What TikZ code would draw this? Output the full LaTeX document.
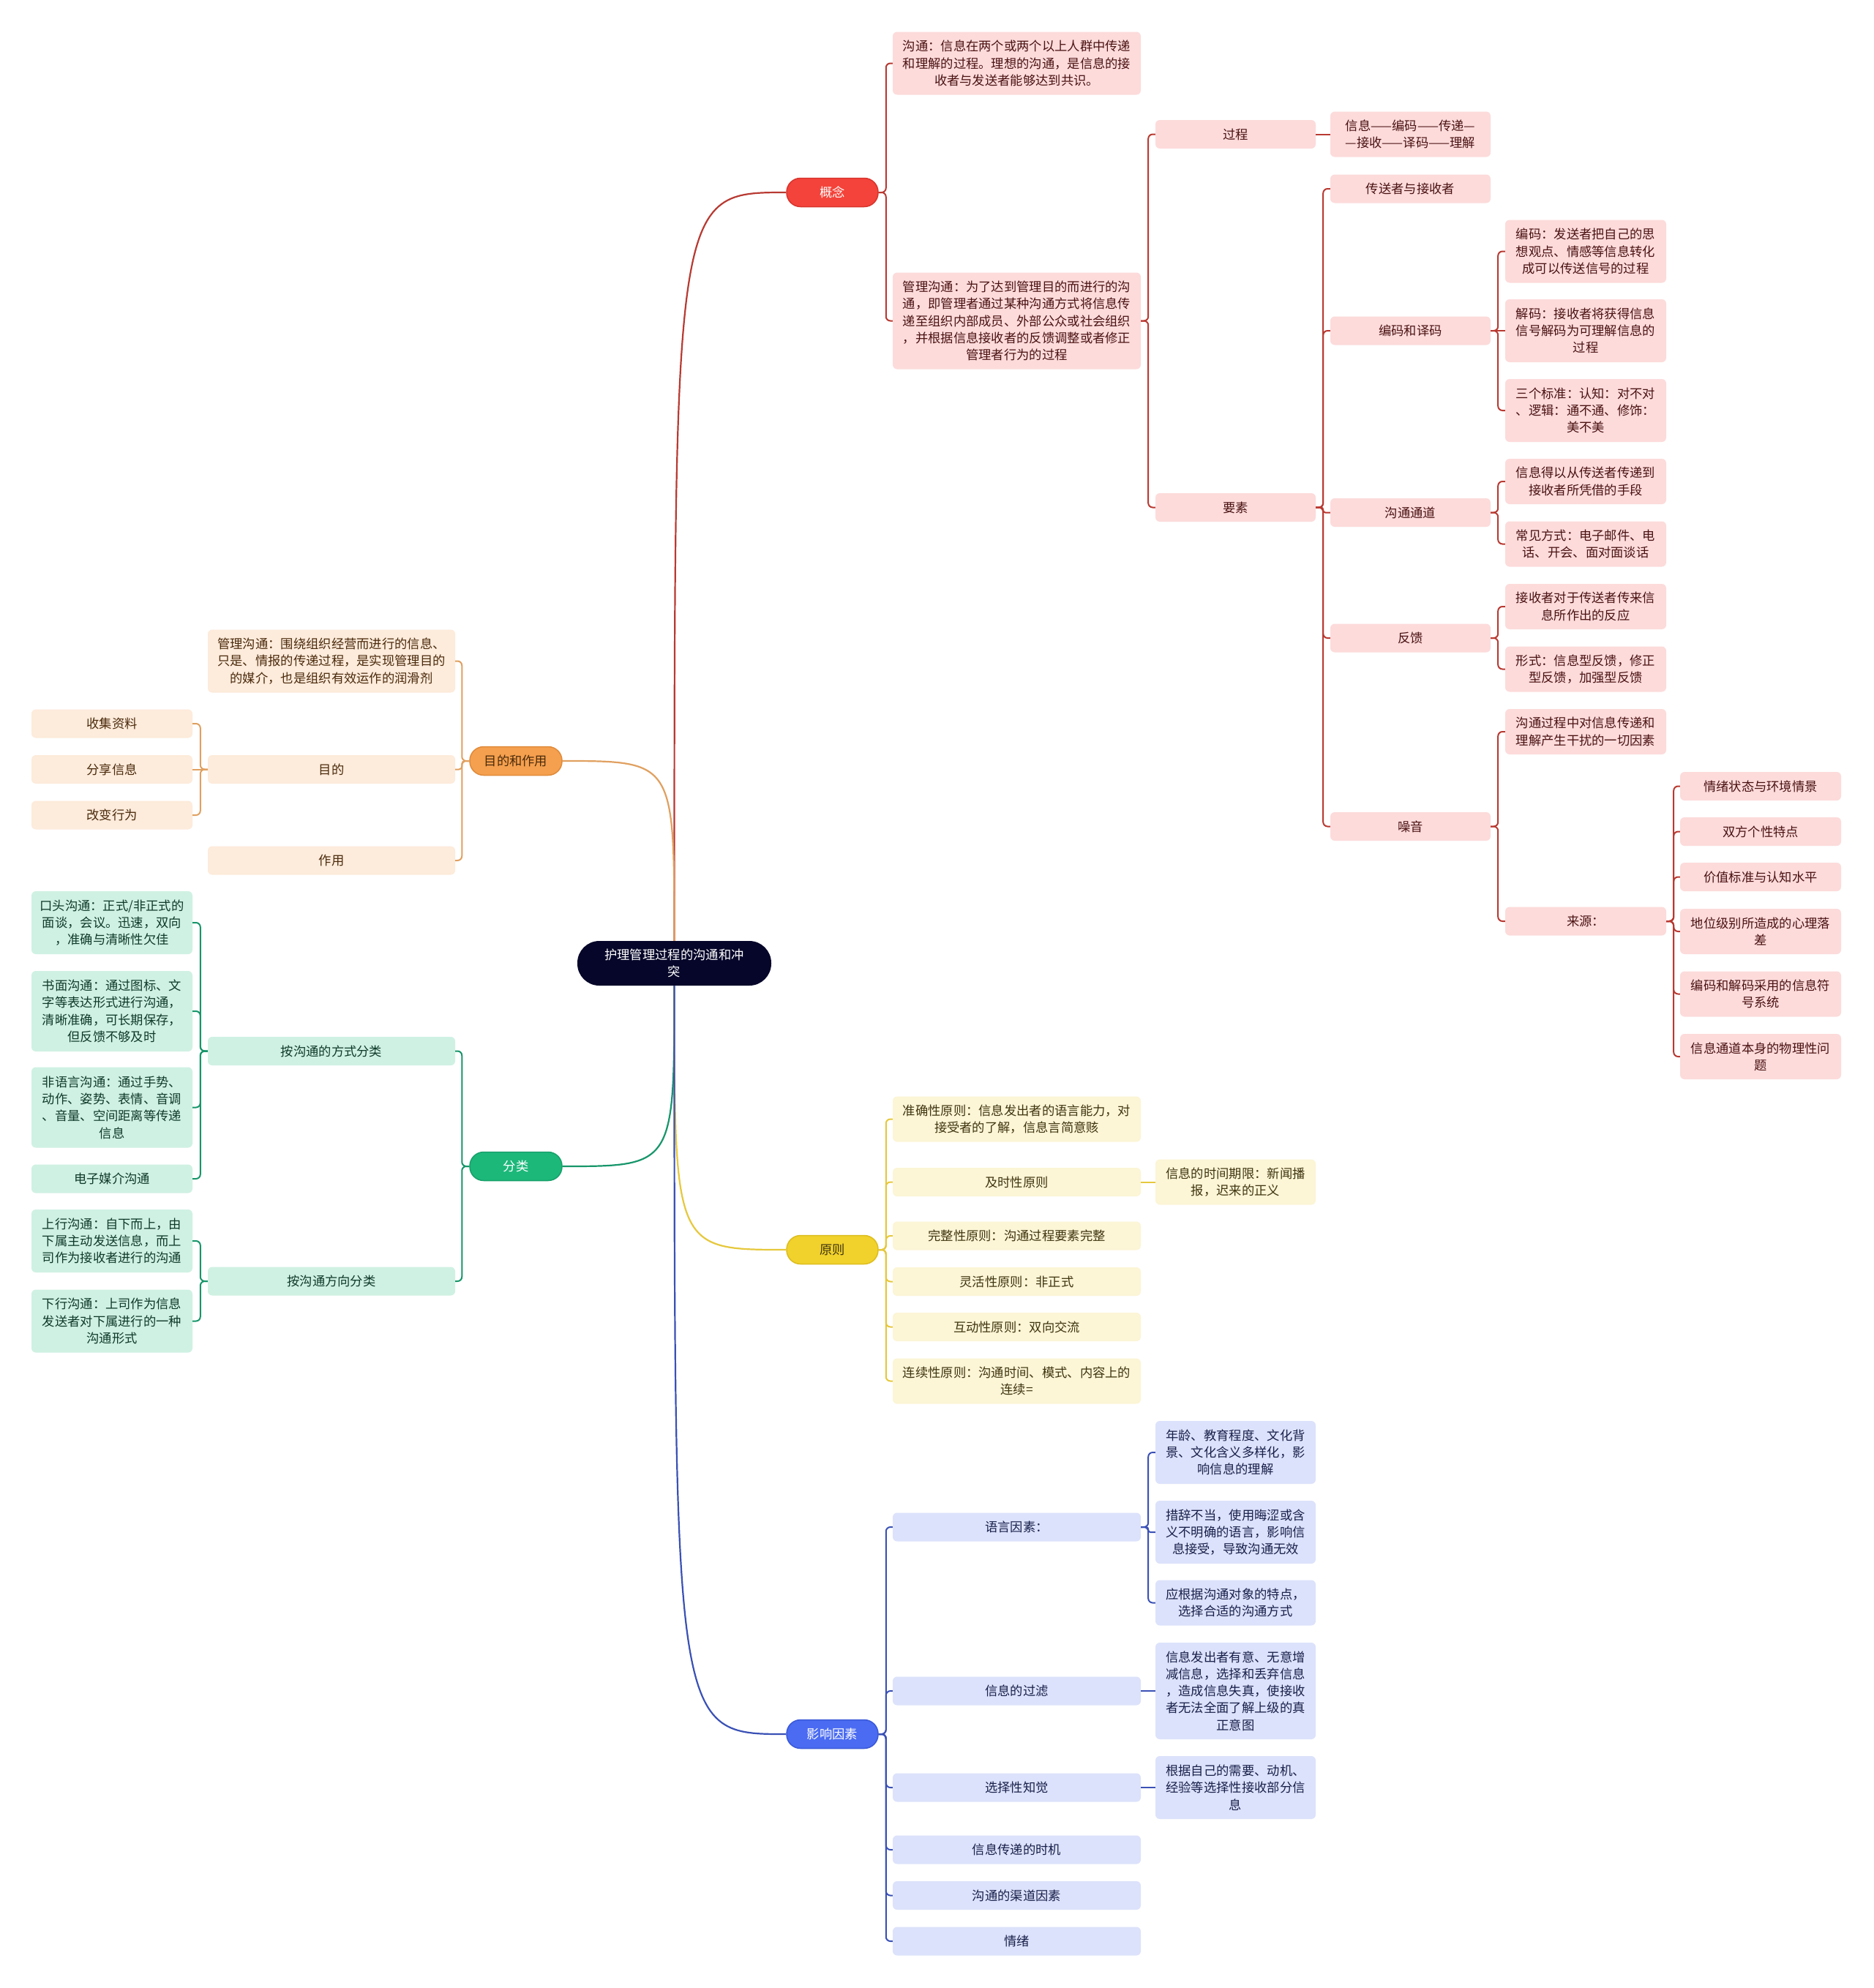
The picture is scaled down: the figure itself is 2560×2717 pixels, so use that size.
\documentclass[tikz,border=0pt]{standalone}
\usepackage{fontspec}
\setmainfont{Noto Sans CJK SC}
\definecolor{rootc}{HTML}{06062A}
\definecolor{redp}{HTML}{F4433A}
\definecolor{redd}{HTML}{D8342C}
\definecolor{redb}{HTML}{FDDBDB}
\definecolor{redt}{HTML}{4A1212}
\definecolor{redl}{HTML}{B83A32}
\definecolor{orap}{HTML}{F5A04E}
\definecolor{orad}{HTML}{E08A3A}
\definecolor{orab}{HTML}{FDEBDB}
\definecolor{orat}{HTML}{4A2A0C}
\definecolor{oral}{HTML}{E0A060}
\definecolor{grep}{HTML}{1CB87A}
\definecolor{gred}{HTML}{17A06A}
\definecolor{greb}{HTML}{CFF1E3}
\definecolor{gret}{HTML}{0F3A2A}
\definecolor{grel}{HTML}{17966A}
\definecolor{yelp}{HTML}{F1D12B}
\definecolor{yeld}{HTML}{DDBD1E}
\definecolor{yelb}{HTML}{FCF5D6}
\definecolor{yelt}{HTML}{3F3510}
\definecolor{yell}{HTML}{E6C83C}
\definecolor{blup}{HTML}{4A6BF2}
\definecolor{blud}{HTML}{3A58D8}
\definecolor{blub}{HTML}{DCE2FB}
\definecolor{blut}{HTML}{18204A}
\definecolor{blul}{HTML}{3A51B5}
\newcommand{\txtfont}{\fontsize{17.3}{23.3}\selectfont}
\tikzset{
  box/.style={rounded corners=6pt, align=center, inner sep=0pt, font=\txtfont},
  pill/.style={box, rounded corners=19pt, minimum width=125pt, minimum height=39pt, line width=1.5pt},
  cR2/.style={minimum width=339pt}, cR3/.style={minimum width=219pt},
  cR4/.style={minimum width=219pt}, cR5/.style={minimum width=220pt},
  cR6/.style={minimum width=220pt}, cL2/.style={minimum width=338pt},
  cL3/.style={minimum width=220pt},
  h1/.style={minimum height=39pt}, h2/.style={minimum height=62pt},
  h3/.style={minimum height=86pt}, h4/.style={minimum height=110pt},
  h5/.style={minimum height=132pt},
  rb/.style={box, fill=redb, text=redt},
  ob/.style={box, fill=orab, text=orat},
  gb/.style={box, fill=greb, text=gret},
  yb/.style={box, fill=yelb, text=yelt},
  bb/.style={box, fill=blub, text=blut},
  conn/.style={line width=2pt, rounded corners=6pt},
  rl/.style={conn, draw=redl}, ol/.style={conn, draw=oral},
  gl/.style={conn, draw=grel}, yl/.style={conn, draw=yell},
  bl/.style={conn, draw=blul},
  rootl/.style={line width=2.2pt}
}
\begin{document}
\begin{tikzpicture}[x=1pt,y=-1pt]
\fill[white] (0,0) rectangle (2560,2717);
\useasboundingbox (0,0) rectangle (2560,2717);

% root
\node[box, rounded corners=30pt, fill=rootc, text=white, minimum width=265pt, minimum height=61pt] (root) at (921.5,1316.5) {护理管理过程的沟通和冲\\突};

% level 1
\node[pill, fill=redp, draw=redd, text=white] (gn) at (1137.5,263) {概念};
\node[pill, fill=orap, draw=orad, text=orat, minimum width=126pt] (md) at (705,1040) {目的和作用};
\node[pill, fill=grep, draw=gred, text=white, minimum width=126pt] (fl) at (705,1594) {分类};
\node[pill, fill=yelp, draw=yeld, text=yelt] (yz) at (1137.5,1708) {原则};
\node[pill, fill=blup, draw=blud, text=white] (yx) at (1137.5,2370) {影响因素};

% root connectors
\draw[rootl, draw=redl] (root.north) .. controls (root.north |- gn.west) .. (gn.west);
\draw[rootl, draw=oral] (root.north) .. controls (root.north |- md.east) .. (md.east);
\draw[rootl, draw=grel] (root.south) .. controls (root.south |- fl.east) .. (fl.east);
\draw[rootl, draw=yell] (root.south) .. controls (root.south |- yz.west) .. (yz.west);
\draw[rootl, draw=blul] (root.south) .. controls (root.south |- yx.west) .. (yx.west);

% ===== 概念 =====
\node[rb,cR2,h3] (gn1) at (1389.5,86.5) {沟通：信息在两个或两个以上人群中传递\\和理解的过程。理想的沟通，是信息的接\\收者与发送者能够达到共识。};
\node[rb,cR2,h5] (gn2) at (1389.5,438.5) {管理沟通：为了达到管理目的而进行的沟\\通，即管理者通过某种沟通方式将信息传\\递至组织内部成员、外部公众或社会组织\\，并根据信息接收者的反馈调整或者修正\\管理者行为的过程};
\node[rb,cR3,h1] (gc) at (1688.5,183.5) {过程};
\node[rb,cR4,h2] (gc1) at (1927.5,183.5) {信息——编码——传递—\\—接收——译码——理解};
\node[rb,cR3,h1] (ys) at (1688.5,693.5) {要素};
\node[rb,cR4,h1] (ys1) at (1927.5,258) {传送者与接收者};
\node[rb,cR4,h1] (ys2) at (1927.5,452) {编码和译码};
\node[rb,cR5,h3] (ys2a) at (2167,343.5) {编码：发送者把自己的思\\想观点、情感等信息转化\\成可以传送信号的过程};
\node[rb,cR5,h3] (ys2b) at (2167,452) {解码：接收者将获得信息\\信号解码为可理解信息的\\过程};
\node[rb,cR5,h3] (ys2c) at (2167,561) {三个标准：认知：对不对\\、逻辑：通不通、修饰：\\美不美};
\node[rb,cR4,h1] (ys3) at (1927.5,700.5) {沟通通道};
\node[rb,cR5,h2] (ys3a) at (2167,658) {信息得以从传送者传递到\\接收者所凭借的手段};
\node[rb,cR5,h2] (ys3b) at (2167,743.5) {常见方式：电子邮件、电\\话、开会、面对面谈话};
\node[rb,cR4,h1] (ys4) at (1927.5,872) {反馈};
\node[rb,cR5,h2] (ys4a) at (2167,829) {接收者对于传送者传来信\\息所作出的反应};
\node[rb,cR5,h2] (ys4b) at (2167,914.5) {形式：信息型反馈，修正\\型反馈，加强型反馈};
\node[rb,cR4,h1] (ys5) at (1927.5,1129.5) {噪音};
\node[rb,cR5,h2] (ys5a) at (2167,1000) {沟通过程中对信息传递和\\理解产生干扰的一切因素};
\node[rb,cR5,h1] (ys5b) at (2167,1259) {来源：};
\node[rb,cR6,h1] (ly1) at (2406,1074.5) {情绪状态与环境情景};
\node[rb,cR6,h1] (ly2) at (2406,1136.5) {双方个性特点};
\node[rb,cR6,h1] (ly3) at (2406,1198.5) {价值标准与认知水平};
\node[rb,cR6,h2] (ly4) at (2406,1273) {地位级别所造成的心理落\\差};
\node[rb,cR6,h2] (ly5) at (2406,1358.5) {编码和解码采用的信息符\\号系统};
\node[rb,cR6,h2] (ly6) at (2406,1444) {信息通道本身的物理性问\\题};

\foreach \c in {gn1,gn2} \draw[rl] (gn.east) -- ++(10,0) |- (\c.west);
\foreach \c in {gc,ys} \draw[rl] (gn2.east) -- ++(10,0) |- (\c.west);
\draw[rl] (gc.east) -- (gc1.west);
\foreach \c in {ys1,ys2,ys4,ys5} \draw[rl] (ys.east) -- ++(10,0) |- (\c.west);
\draw[rl, rounded corners=3pt] (ys.east) -- ++(10,0) |- (ys3.west);
\foreach \c in {ys2a,ys2c} \draw[rl] (ys2.east) -- ++(10,0) |- (\c.west);
\draw[rl] (ys2.east) -- (ys2b.west);
\foreach \c in {ys3a,ys3b} \draw[rl] (ys3.east) -- ++(10,0) |- (\c.west);
\foreach \c in {ys4a,ys4b} \draw[rl] (ys4.east) -- ++(10,0) |- (\c.west);
\foreach \c in {ys5a,ys5b} \draw[rl] (ys5.east) -- ++(10,0) |- (\c.west);
\foreach \c in {ly1,ly2,ly3,ly4,ly5,ly6} \draw[rl] (ys5b.east) -- ++(10,0) |- (\c.west);

% ===== 目的和作用 =====
\node[ob,cL2,h3] (md1) at (453,903.5) {管理沟通：围绕组织经营而进行的信息、\\只是、情报的传递过程，是实现管理目的\\的媒介，也是组织有效运作的润滑剂};
\node[ob,cL2,h1] (md2) at (453,1051.5) {目的};
\node[ob,cL3,h1] (md2a) at (153,989) {收集资料};
\node[ob,cL3,h1] (md2b) at (153,1051.5) {分享信息};
\node[ob,cL3,h1] (md2c) at (153,1114) {改变行为};
\node[ob,cL2,h1] (md3) at (453,1176) {作用};

\foreach \c in {md1,md3} \draw[ol] (md.west) -- ++(-10,0) |- (\c.east);
\draw[ol, rounded corners=4pt] (md.west) -- ++(-10,0) |- (md2.east);
\foreach \c in {md2a,md2c} \draw[ol] (md2.west) -- ++(-10,0) |- (\c.east);
\draw[ol] (md2.west) -- (md2b.east);

% ===== 分类 =====
\node[gb,cL2,h1] (fl1) at (453,1436.5) {按沟通的方式分类};
\node[gb,cL3,h3] (fl1a) at (153,1261) {口头沟通：正式/非正式的\\面谈，会议。迅速，双向\\，准确与清晰性欠佳};
\node[gb,cL3,h4] (fl1b) at (153,1382) {书面沟通：通过图标、文\\字等表达形式进行沟通，\\清晰准确，可长期保存，\\但反馈不够及时};
\node[gb,cL3,h4] (fl1c) at (153,1513.5) {非语言沟通：通过手势、\\动作、姿势、表情、音调\\、音量、空间距离等传递\\信息};
\node[gb,cL3,h1] (fl1d) at (153,1611) {电子媒介沟通};
\node[gb,cL2,h1] (fl2) at (453,1751) {按沟通方向分类};
\node[gb,cL3,h3] (fl2a) at (153,1696) {上行沟通：自下而上，由\\下属主动发送信息，而上\\司作为接收者进行的沟通};
\node[gb,cL3,h3] (fl2b) at (153,1805.5) {下行沟通：上司作为信息\\发送者对下属进行的一种\\沟通形式};

\foreach \c in {fl1,fl2} \draw[gl] (fl.west) -- ++(-10,0) |- (\c.east);
\foreach \c in {fl1a,fl1b,fl1c,fl1d} \draw[gl] (fl1.west) -- ++(-10,0) |- (\c.east);
\foreach \c in {fl2a,fl2b} \draw[gl] (fl2.west) -- ++(-10,0) |- (\c.east);

% ===== 原则 =====
\node[yb,cR2,h2] (yz1) at (1389.5,1529.5) {准确性原则：信息发出者的语言能力，对\\接受者的了解，信息言简意赅};
\node[yb,cR2,h1] (yz2) at (1389.5,1615.5) {及时性原则};
\node[yb,cR3,h2] (yz2a) at (1688.5,1615.5) {信息的时间期限：新闻播\\报，迟来的正义};
\node[yb,cR2,h1] (yz3) at (1389.5,1689) {完整性原则：沟通过程要素完整};
\node[yb,cR2,h1] (yz4) at (1389.5,1751.5) {灵活性原则：非正式};
\node[yb,cR2,h1] (yz5) at (1389.5,1813.5) {互动性原则：双向交流};
\node[yb,cR2,h2] (yz6) at (1389.5,1887.5) {连续性原则：沟通时间、模式、内容上的\\连续=};

\foreach \c in {yz1,yz2,yz3,yz4,yz5,yz6} \draw[yl] (yz.east) -- ++(10,0) |- (\c.west);
\draw[yl] (yz2.east) -- (yz2a.west);

% ===== 影响因素 =====
\node[bb,cR2,h1] (yx1) at (1389.5,2087) {语言因素：};
\node[bb,cR3,h3] (yx1a) at (1688.5,1985) {年龄、教育程度、文化背\\景、文化含义多样化，影\\响信息的理解};
\node[bb,cR3,h3] (yx1b) at (1688.5,2094) {措辞不当，使用晦涩或含\\义不明确的语言，影响信\\息接受，导致沟通无效};
\node[bb,cR3,h2] (yx1c) at (1688.5,2190.5) {应根据沟通对象的特点，\\选择合适的沟通方式};
\node[bb,cR2,h1] (yx2) at (1389.5,2311) {信息的过滤};
\node[bb,cR3,h5] (yx2a) at (1688.5,2311) {信息发出者有意、无意增\\减信息，选择和丢弃信息\\，造成信息失真，使接收\\者无法全面了解上级的真\\正意图};
\node[bb,cR2,h1] (yx3) at (1389.5,2443) {选择性知觉};
\node[bb,cR3,h3] (yx3a) at (1688.5,2443) {根据自己的需要、动机、\\经验等选择性接收部分信\\息};
\node[bb,cR2,h1] (yx4) at (1389.5,2528) {信息传递的时机};
\node[bb,cR2,h1] (yx5) at (1389.5,2590.5) {沟通的渠道因素};
\node[bb,cR2,h1] (yx6) at (1389.5,2653) {情绪};

\foreach \c in {yx1,yx2,yx3,yx4,yx5,yx6} \draw[bl] (yx.east) -- ++(10,0) |- (\c.west);
\foreach \c in {yx1a,yx1c} \draw[bl] (yx1.east) -- ++(10,0) |- (\c.west);
\draw[bl, rounded corners=3pt] (yx1.east) -- ++(10,0) |- (yx1b.west);
\draw[bl] (yx2.east) -- (yx2a.west);
\draw[bl] (yx3.east) -- (yx3a.west);
\end{tikzpicture}
\end{document}
